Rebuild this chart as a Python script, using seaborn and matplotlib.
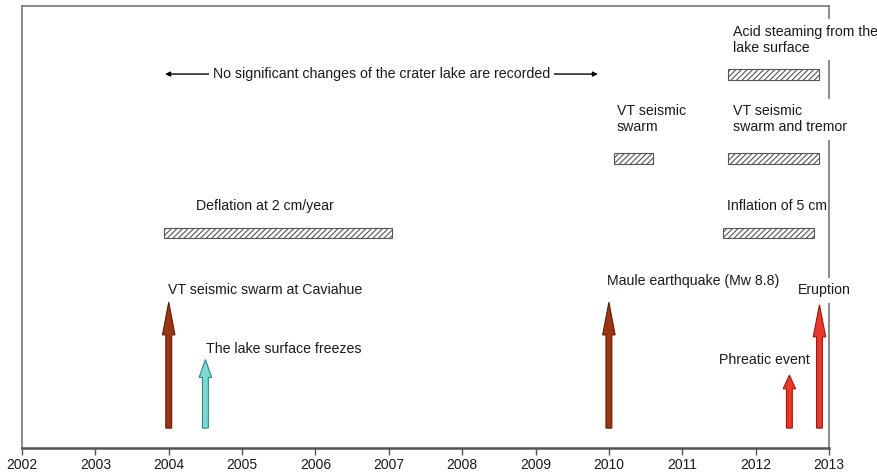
import numpy as np
import pandas as pd
import seaborn as sns
import matplotlib.pyplot as plt

# Data read from the timeline
years = list(range(2002, 2014))

period_labels = ['Deflation at 2 cm/year', 'VT seismic\nswarm', 'VT seismic\nswarm and tremor',
                 'Inflation of 5 cm', 'Acid steaming from the\nlake surface']
period_start = [2003.93, 2010.07, 2011.63, 2011.55, 2011.63]
period_end = [2007.05, 2010.60, 2012.87, 2012.79, 2012.87]
period_row = [0.486, 0.655, 0.655, 0.486, 0.845]

event_labels = ['VT seismic swarm at Caviahue', 'The lake surface freezes', 'Maule earthquake (Mw 8.8)',
                'Phreatic event', 'Eruption']
event_year = [2004.0, 2004.5, 2010.0, 2012.46, 2012.87]
event_height = [0.33, 0.20, 0.33, 0.165, 0.324]

quiet_label = 'No significant changes of the crater lake are recorded'
quiet_start = 2003.95
quiet_end = 2009.85

df_p = pd.DataFrame({'label': period_labels, 'start': period_start, 'end': period_end, 'row': period_row})
df_e = pd.DataFrame({'label': event_labels, 'year': event_year, 'height': event_height})

sns.set_theme(style='white')
plt.rcParams['font.family'] = ['Liberation Sans', 'DejaVu Sans']
plt.rcParams['hatch.color'] = '#4d4d4d'
plt.rcParams['hatch.linewidth'] = 0.8

fs = 10.2
fig = plt.figure(figsize=(8.78, 4.75), dpi=100)
ax = fig.add_axes([22 / 878, 27 / 475, 807 / 878, 442 / 475])
ax.set_xlim(2002, 2013)
ax.set_ylim(0, 1)

# hatched periods
ax.barh(df_p['row'], df_p['end'] - df_p['start'], left=df_p['start'], height=0.024,
        color='white', edgecolor='#555555', hatch='//////', linewidth=0.8, zorder=2)

# text positions for periods
p_text = [(2004.37, 0.548, 'center'), (2010.11, 0.778, 'top'), (2011.69, 0.778, 'top'),
          (2011.61, 0.548, 'center'), (2011.69, 0.958, 'top')]
for i, (lab, (tx, ty, va)) in enumerate(zip(df_p['label'], p_text)):
    bb = dict(facecolor='white', edgecolor='none', pad=4) if i in (2, 4) else None
    ax.text(tx, ty, lab, ha='left', va=va, fontsize=fs, color='#1a1a1a',
            linespacing=1.2, bbox=bb, zorder=4, clip_on=False)

# event arrows
face = ['#9c3511', '#80d8d2', '#9c3511', '#e8382a', '#e8382a']
edge = ['#5a1e08', '#2b8a85', '#5a1e08', '#9a1a10', '#9a1a10']
base = 0.045
for (yr, h), fc, ec in zip(zip(df_e['year'], df_e['height']), face, edge):
    length = h - base
    ax.arrow(yr, base, 0, length, width=0.08, head_width=0.17, head_length=0.26 * length,
             length_includes_head=True, facecolor=fc, edgecolor=ec, linewidth=0.8, zorder=3)

e_text = [(2003.99, 0.357), (2004.51, 0.224), (2009.97, 0.378), (2011.50, 0.199), (2012.58, 0.357)]
for i, (lab, (tx, ty)) in enumerate(zip(df_e['label'], e_text)):
    bb = dict(facecolor='white', edgecolor='none', pad=4) if i == 4 else None
    ax.text(tx, ty, lab, ha='left', va='center', fontsize=fs, color='#1a1a1a',
            bbox=bb, zorder=4, clip_on=False)

# quiet period arrow
ax.annotate('', xy=(quiet_end, 0.846), xytext=(quiet_start, 0.846),
            arrowprops=dict(arrowstyle='<|-|>', color='black', lw=1, mutation_scale=7,
                            shrinkA=0, shrinkB=0))
ax.text((quiet_start + quiet_end) / 2, 0.846, quiet_label, ha='center', va='center', fontsize=fs,
        color='#1a1a1a', bbox=dict(facecolor='white', edgecolor='none', pad=3), zorder=4)

ax.set_xticks(years)
ax.set_xticklabels([str(y) for y in years], fontsize=10)
ax.set_yticks([])
ax.tick_params(axis='x', direction='out', length=5, width=1, color='#555555', pad=2,
               bottom=True, labelcolor='#1a1a1a')
for s in ['left', 'top', 'right']:
    ax.spines[s].set_color('#777777')
    ax.spines[s].set_linewidth(1.2)
ax.spines['bottom'].set_color('#555555')
ax.spines['bottom'].set_linewidth(1.8)
ax.spines['right'].set_zorder(1)

plt.savefig('out.png', dpi=100)
